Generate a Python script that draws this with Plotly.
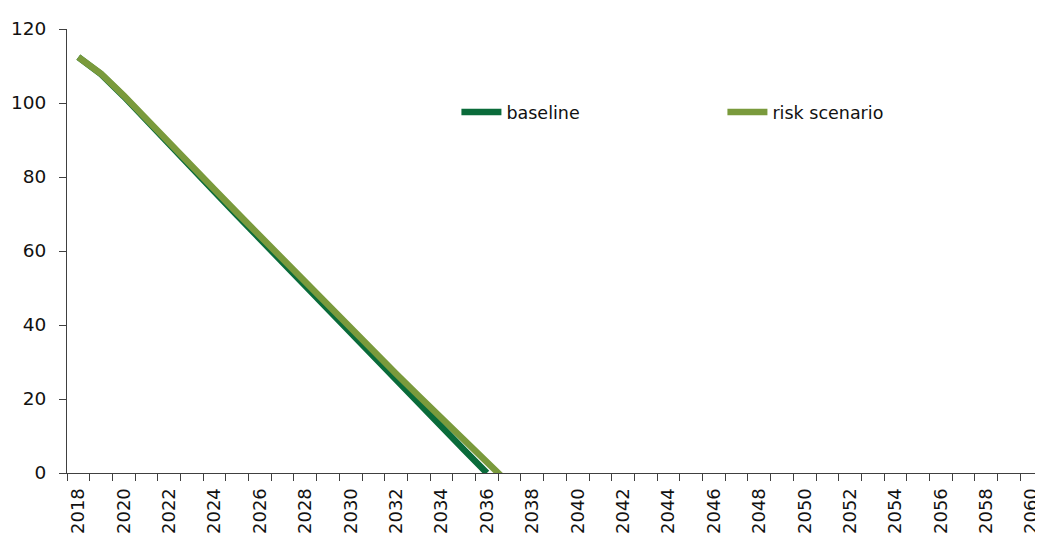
import plotly.graph_objects as go

years = list(range(2018, 2061))
baseline = [112.4, 107.8, 101.8, 95.5, 89.0, 82.5, 76.0, 69.6, 63.2, 56.8,
            50.4, 44.0, 37.6, 31.3, 25.0, 18.7, 12.4, 6.2, 0.0]
risk_scenario = [112.4, 107.9, 102.0, 95.8, 89.4, 83.0, 76.6, 70.3, 64.0, 57.7,
                 51.4, 45.2, 39.0, 32.9, 26.8, 20.8, 14.8, 8.8, 2.9, -3.0]
tick_labels = [str(y) for y in range(2018, 2061, 2)]

FONT = "DejaVu Sans"
AXIS = "#404040"
TXT = "#111111"

fig = go.Figure()
fig.add_trace(go.Scatter(x=years[:len(baseline)], y=baseline, mode="lines",
                         name="baseline", line=dict(color="#0A6B3A", width=6.5)))
fig.add_trace(go.Scatter(x=years[:len(risk_scenario)], y=risk_scenario, mode="lines",
                         name="risk scenario", line=dict(color="#7A9A3C", width=6.5)))

# the page body adds an 8px margin, so the figure is sized to the remaining window
fig.update_layout(
    width=1035, height=528,
    margin=dict(l=59, r=0, t=21, b=63),
    paper_bgcolor="white", plot_bgcolor="white",
    font=dict(family=FONT, size=17.5, color=TXT),
    showlegend=True,
    legend=dict(orientation="h", x=0.399, xanchor="left", y=0.813, yanchor="middle",
                entrywidth=211, entrywidthmode="pixels",
                font=dict(family=FONT, size=17.5, color=TXT),
                bgcolor="rgba(0,0,0,0)", itemwidth=40, tracegroupgap=0),
    xaxis=dict(
        range=[2017.5, 2060.5], automargin=False,
        tickmode="array", tickvals=list(range(2018, 2061, 2)), ticktext=tick_labels,
        tickangle=-90, ticks="", showgrid=False, zeroline=False,
        showline=True, linecolor=AXIS, linewidth=1, ticklabelstandoff=7,
        tickfont=dict(family=FONT, size=18, color=TXT),
        minor=dict(tickmode="array", tickvals=[y + 0.5 for y in range(2017, 2061)],
                   ticks="outside", ticklen=7, tickcolor=AXIS, tickwidth=1, showgrid=False),
    ),
    yaxis=dict(
        range=[0, 120], tickvals=[0, 20, 40, 60, 80, 100, 120], automargin=False,
        ticks="outside", ticklen=7, tickcolor=AXIS, tickwidth=1,
        showgrid=False, zeroline=False, ticklabelstandoff=9,
        showline=True, linecolor=AXIS, linewidth=1,
        tickfont=dict(family=FONT, size=18.5, color=TXT),
    ),
)

fig.write_html("out.html")
